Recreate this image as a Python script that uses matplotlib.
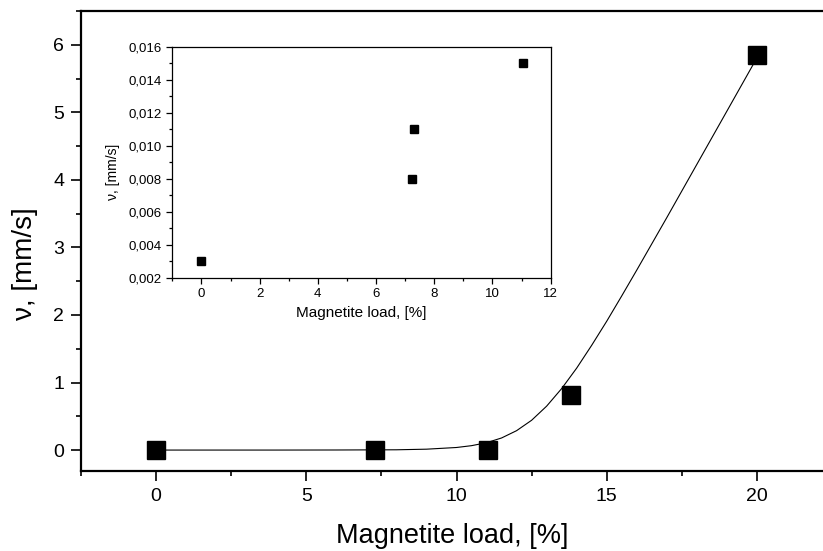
import matplotlib
matplotlib.use("Agg")
import matplotlib.pyplot as plt
from matplotlib.ticker import MultipleLocator, FuncFormatter

# ---- data ----
load_main = [0.0, 7.3, 11.05, 13.8, 20.0]
v_main = [0.0, 0.005, 0.003, 0.82, 5.85]

# fitted curve
fit_x = [0, 2, 4, 6, 8, 9, 10, 10.5, 11, 11.5, 12, 12.5, 13, 13.5, 14, 14.5,
         15, 15.5, 16, 17, 18, 19, 20]
fit_y = [0.0, 0.0, 0.0, 0.001, 0.004, 0.013, 0.038, 0.065, 0.109, 0.179, 0.287,
         0.441, 0.650, 0.910, 1.213, 1.551, 1.907, 2.282, 2.664, 3.441, 4.229,
         5.017, 5.806]

load_inset = [0.0, 7.25, 7.3, 11.05]
v_inset = [0.003, 0.008, 0.011, 0.015]

main_xticks = [0, 5, 10, 15, 20]
main_yticks = [0, 1, 2, 3, 4, 5, 6]
inset_xticks = [0, 2, 4, 6, 8, 10, 12]
inset_yticks = [0.002, 0.004, 0.006, 0.008, 0.010, 0.012, 0.014, 0.016]

plt.rcParams['font.family'] = ['Liberation Sans', 'DejaVu Sans']

fig = plt.figure(figsize=(8.23, 5.51), dpi=100)

ax = fig.add_axes([81/823, 1-471/551, 1-81/823, (471-11)/551])
ax.plot(fit_x, fit_y, color='black', lw=0.8, zorder=2)
ax.plot(load_main, v_main, ls='none', marker='s', ms=12.5, color='black', zorder=3)
ax.set_xlim(-2.5, 22.2)
ax.set_ylim(-0.31, 6.5)
ax.set_xticks(main_xticks)
ax.set_yticks(main_yticks)
ax.xaxis.set_minor_locator(MultipleLocator(2.5))
ax.yaxis.set_minor_locator(MultipleLocator(0.5))
ax.tick_params(which='major', direction='out', length=7, width=1.2, labelsize=14, pad=5)
ax.tick_params(which='minor', direction='out', length=3.5, width=1.2)
ax.spines['right'].set_visible(False)
for s in ['left', 'bottom', 'top']:
    ax.spines[s].set_linewidth(1.6)
ax.set_xlabel("Magnetite load, [%]", fontsize=19.5, labelpad=13)
ax.set_ylabel("ν, [mm/s]", fontsize=20)
ax.yaxis.set_label_coords(-0.058, 0.45)

# inset
ins = fig.add_axes([172.3/823, 1-278/551, (550.7-172.3)/823, (278-46.7)/551])
ins.plot(load_inset, v_inset, ls='none', marker='s', ms=6, color='black')
ins.set_xlim(-1, 12)
ins.set_ylim(0.002, 0.016)
ins.set_xticks(inset_xticks)
ins.set_yticks(inset_yticks)
ins.xaxis.set_minor_locator(MultipleLocator(1))
ins.yaxis.set_minor_locator(MultipleLocator(0.001))
ins.yaxis.set_major_formatter(FuncFormatter(lambda v, p: f"{v:.3f}".replace('.', ',')))
ins.tick_params(which='major', direction='out', length=4, width=0.9, labelsize=9.5,
                top=False, right=False)
ins.tick_params(which='minor', direction='out', length=2, width=0.9)
for s in ins.spines.values():
    s.set_linewidth(0.9)
ins.set_xlabel("Magnetite load, [%]", fontsize=11)
ins.set_ylabel("ν, [mm/s]", fontsize=10)
ins.yaxis.set_label_coords(-0.138, 0.458)

fig.savefig("out.png", dpi=100)
